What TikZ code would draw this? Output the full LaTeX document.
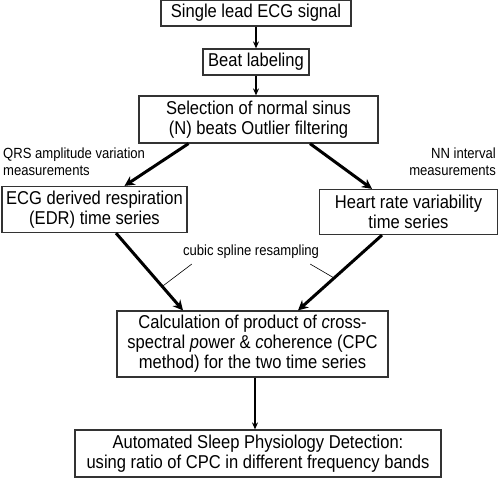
\documentclass[tikz,border=0pt]{standalone}
\usepackage{fontspec}
\setmainfont[FakeStretch=0.89]{Liberation Sans}
\usepackage{tikz}
\usetikzlibrary{positioning, shapes.geometric, arrows.meta}
\tikzstyle{arrow} = [line width=2pt,-{Stealth[length=7pt,width=6pt]}]
\tikzstyle{bigarrow} = [line width=3pt,-{Stealth[length=10pt,width=10pt]}]
\tikzstyle{block} = [draw=black!80, line width=1.2pt, fill=white, rectangle, align=center,
    inner sep=0pt, font=\fontsize{18.6}{20}\selectfont]
\tikzstyle{note} = [inner sep=0pt, font=\fontsize{14.7}{16.5}\selectfont]

\begin{document}
\begin{tikzpicture}[auto, x=1pt, y=-1pt, node distance=50pt]
     \useasboundingbox (0,0) rectangle (500,478);
     \node [block, minimum width=190pt, minimum height=26pt] (signal) at (256,13) {Single lead ECG signal};
     \node [block, below of=signal, yshift=1pt, minimum width=106pt, minimum height=26pt] (labeling) {Beat labeling};
     \draw [arrow] (signal) -- (labeling);
     \node [block, below of=labeling, xshift=2.5pt, yshift=-7.5pt, minimum width=239pt, minimum height=47pt] (selection)
        {Selection of normal sinus\\(N) beats Outlier filtering};
     \draw [arrow] (labeling) -- (labeling |- selection.north);

     \node [block, left of=selection, xshift=-114pt, yshift=-90pt, minimum width=185pt, minimum height=46pt] (edr)
        {ECG derived respiration\\(EDR) time series};
     \node [block, right of=selection, xshift=100pt, yshift=-92.5pt, minimum width=178pt, minimum height=45pt] (hrv)
        {Heart rate variability\\time series};
     \draw [bigarrow] ([xshift=-70pt]selection.south) -- ([xshift=30pt]edr.north);
     \draw [bigarrow] ([xshift=51.5pt]selection.south) -- ([xshift=-36.5pt]hrv.north);
     \node [note, align=left, anchor=north west] (qrs) at (3,148) {QRS amplitude variation\\measurements};
     \node [note, align=right, anchor=north east] (nn) at (496,148) {NN interval\\measurements};

     \node [block, below of=selection, xshift=-6pt, yshift=-174.5pt, minimum width=271pt, minimum height=66pt] (cpc)
        {Calculation of product of \textit{c}ross-\\spectral \textit{p}ower \& \textit{c}oherence (CPC\\method) for the two time series};
     \draw [bigarrow] ([xshift=21.5pt]edr.south) -- node[pos=0.69, coordinate] (edrline) {} ([xshift=-69.5pt]cpc.north);
     \draw [bigarrow] ([xshift=-26.5pt]hrv.south) -- node[pos=0.57, coordinate] (hrvline) {} ([xshift=45.5pt]cpc.north);
     \node [note] (spline) at (251,252) {cubic spline resampling};
     \draw [line width=0.6pt] ([xshift=9pt, yshift=-5pt]spline.south west) -- (edrline);
     \draw [line width=0.6pt] ([xshift=-9pt, yshift=-5pt]spline.south east) -- (hrvline);

     \node [block, below of=cpc, xshift=5.5pt, yshift=-59.5pt, minimum width=366pt, minimum height=47pt] (detection)
        {Automated Sleep Physiology Detection:\\using ratio of CPC in different frequency bands};
     \draw [arrow] ([xshift=2.5pt]cpc.south) -- ([xshift=2.5pt]cpc.south |- detection.north);
\end{tikzpicture}
\end{document}
